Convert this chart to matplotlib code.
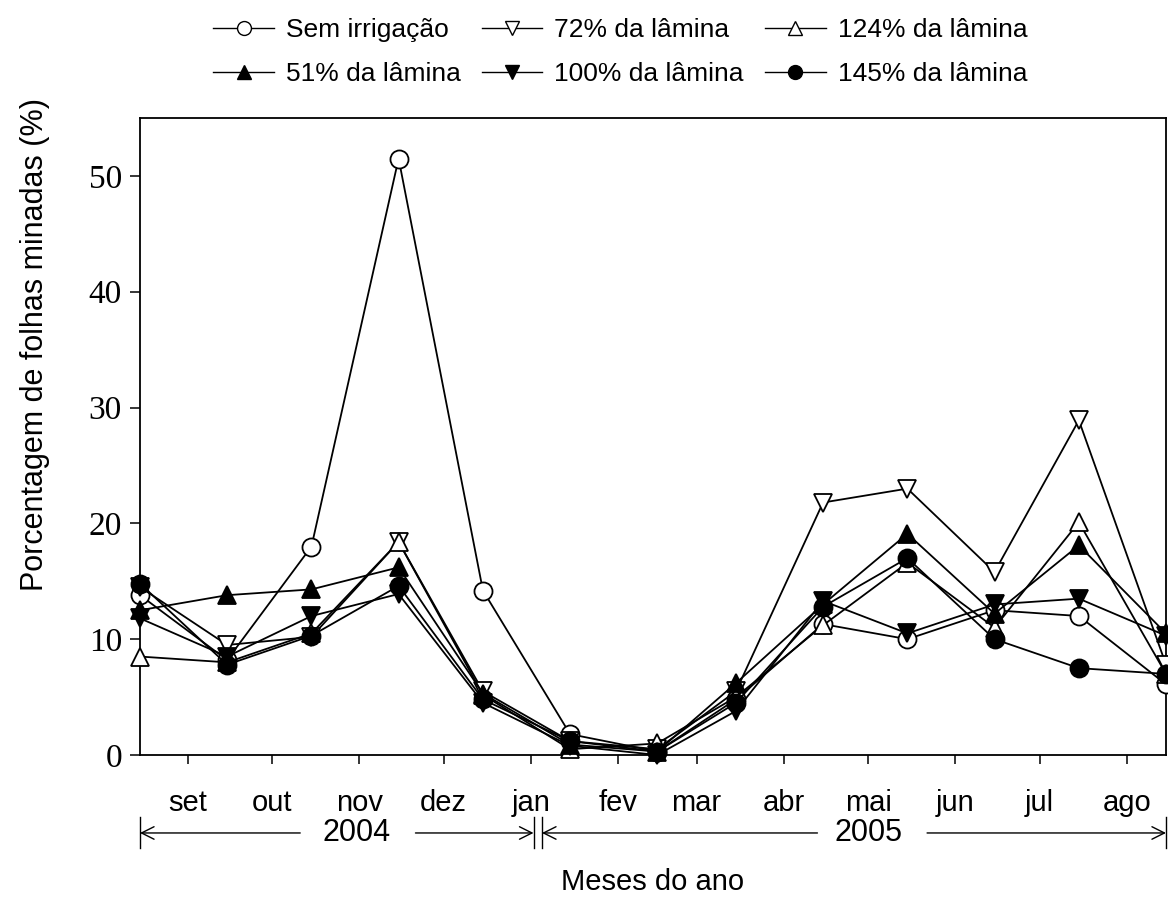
import datetime as dt
import matplotlib
matplotlib.use("Agg")
import matplotlib.pyplot as plt
import matplotlib.dates as mdates
from matplotlib.lines import Line2D

# ---------------- data ----------------
sample_dates = ["2004-08-15", "2004-09-15", "2004-10-15", "2004-11-15", "2004-12-15",
                "2005-01-15", "2005-02-15", "2005-03-15", "2005-04-15", "2005-05-15",
                "2005-06-15", "2005-07-15", "2005-08-15"]

sem_irrigacao = [13.8, 8.2, 18.0, 51.5, 14.2, 1.8, 0.3, 4.8, 11.3, 10.0, 12.5, 12.0, 6.1]
lamina_72 = [14.5, 9.5, 10.2, 18.4, 5.5, 1.2, 0.5, 5.5, 21.8, 23.0, 15.8, 28.9, 7.8]
lamina_124 = [8.5, 8.0, 10.5, 18.4, 5.2, 0.5, 1.0, 5.0, 11.2, 16.6, 11.0, 20.1, 7.0]
lamina_51 = [12.5, 13.8, 14.3, 16.2, 5.3, 0.9, 0.3, 6.2, 13.0, 19.1, 12.2, 18.1, 10.5]
lamina_100 = [11.8, 8.5, 12.0, 13.9, 4.5, 0.8, 0.0, 3.8, 13.3, 10.5, 13.0, 13.5, 10.3]
lamina_145 = [14.8, 7.8, 10.3, 14.6, 4.8, 1.2, 0.3, 4.5, 12.8, 17.0, 10.0, 7.5, 7.0]

series_labels = ["Sem irrigação", "72% da lâmina", "124% da lâmina",
                 "51% da lâmina", "100% da lâmina", "145% da lâmina"]

month_ticks = ["2004-09-01", "2004-10-01", "2004-11-01", "2004-12-01", "2005-01-01",
               "2005-02-01", "2005-03-01", "2005-04-01", "2005-05-01", "2005-06-01",
               "2005-07-01", "2005-08-01"]
month_labels = ["set", "out", "nov", "dez", "jan", "fev", "mar", "abr", "mai", "jun", "jul", "ago"]

y_ticks = [0, 10, 20, 30, 40, 50]

# year spans: (label, start, gap_left, gap_right, end, text_center)
year_spans = [
    ("2004", "2004-08-15", "2004-10-11", "2004-11-21", "2005-01-02", "2004-10-31"),
    ("2005", "2005-01-05", "2005-04-13", "2005-05-22", "2005-08-15", "2005-05-01"),
]

# ---------------- styles ----------------
def d(s):
    return mdates.date2num(dt.datetime.strptime(s, "%Y-%m-%d"))

styles = {
    "Sem irrigação": dict(marker="o", mfc="white"),
    "72% da lâmina": dict(marker="v", mfc="white"),
    "124% da lâmina": dict(marker="^", mfc="white"),
    "51% da lâmina": dict(marker="^", mfc="black"),
    "100% da lâmina": dict(marker="v", mfc="black"),
    "145% da lâmina": dict(marker="o", mfc="black"),
}
values = {
    "Sem irrigação": sem_irrigacao,
    "72% da lâmina": lamina_72,
    "124% da lâmina": lamina_124,
    "51% da lâmina": lamina_51,
    "100% da lâmina": lamina_100,
    "145% da lâmina": lamina_145,
}

SANS = ["Liberation Sans", "DejaVu Sans"]
SERIF = ["Liberation Serif", "DejaVu Serif"]

fig = plt.figure(figsize=(11.68, 9), dpi=100)
ax = fig.add_axes([140 / 1168, 1 - 755 / 900, 1026 / 1168, 637 / 900])

xs = [d(s) for s in sample_dates]
for lab in series_labels:
    st = styles[lab]
    ax.plot(xs, values[lab], color="black", lw=1.3, marker=st["marker"],
            markersize=13, markerfacecolor=st["mfc"], markeredgecolor="black",
            markeredgewidth=1.3, clip_on=False, zorder=3)

ax.set_xlim(d("2004-08-15"), d("2005-08-15"))
ax.set_ylim(0, 55)

ax.set_xticks([d(s) for s in month_ticks])
ax.set_xticklabels(month_labels, fontsize=21, family=SANS)
ax.set_yticks(y_ticks)
ax.set_yticklabels([str(v) for v in y_ticks], fontsize=24, family=SERIF)
ax.tick_params(axis="x", direction="out", length=6.5, width=1.1, pad=18)
ax.tick_params(axis="y", direction="out", length=7, width=1.1, pad=6)
ax.tick_params(top=False, right=False)
for sp in ax.spines.values():
    sp.set_linewidth(1.3)

ax.set_xlabel("Meses do ano", fontsize=21, family=SANS)
ax.xaxis.set_label_coords(0.5, -0.177)
ax.set_ylabel("Porcentagem de folhas minadas (%)", fontsize=22, family=SANS)
ax.yaxis.set_label_coords(-0.088, 0.645)

# year arrows
trans = ax.get_xaxis_transform()
yy = -0.1224
for lab, s0, g0, g1, s1, tc in year_spans:
    for tip, tail in ((s0, g0), (s1, g1)):
        ax.annotate("", xy=(d(tip), yy), xytext=(d(tail), yy), xycoords=trans,
                    textcoords=trans,
                    arrowprops=dict(arrowstyle="->,head_length=0.9,head_width=0.45",
                                    lw=1.0, color="black", shrinkA=0, shrinkB=0),
                    annotation_clip=False)
    for xb in (s0, s1):
        ax.plot([d(xb), d(xb)], [-0.097, -0.146], transform=trans, color="black",
                lw=1.0, clip_on=False)
    ax.text(d(tc), yy, lab, transform=trans, ha="center", va="center",
            fontsize=22, family=SANS)

# legend (column-fill order so rows read: Sem/72/124, 51/100/145)
order = ["Sem irrigação", "51% da lâmina", "72% da lâmina", "100% da lâmina",
         "124% da lâmina", "145% da lâmina"]
handles = []
for lab in order:
    st = styles[lab]
    handles.append(Line2D([], [], color="black", lw=1.0, marker=st["marker"], markersize=10,
                          markerfacecolor=st["mfc"], markeredgecolor="black",
                          markeredgewidth=1.0))
fig.legend(handles, order, loc="upper center", bbox_to_anchor=(0.531, 1.0),
           ncol=3, frameon=False, prop=dict(family=SANS, size=19),
           handlelength=2.3, handletextpad=0.45, columnspacing=0.8,
           labelspacing=0.75, borderpad=0.2)

fig.savefig("out.png", dpi=100)
